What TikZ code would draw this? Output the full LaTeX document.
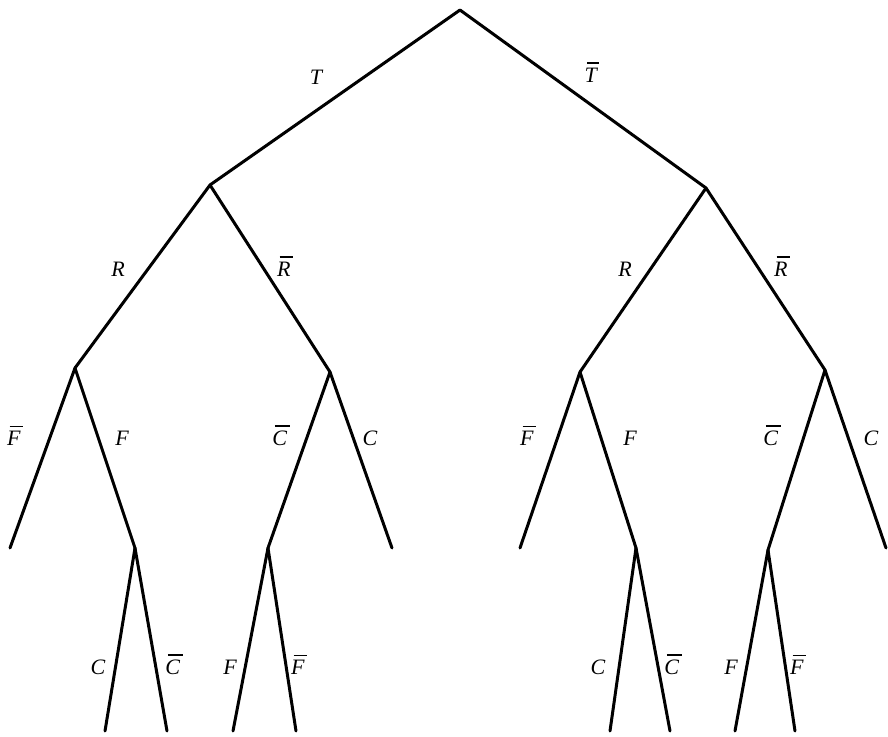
\documentclass[tikz,border=0pt]{standalone}
\usepackage{fontspec}
\setmainfont{Liberation Serif}
\begin{document}
\begin{tikzpicture}[x=1pt,y=-1pt,
  br/.style={line width=3pt,line cap=round},
  lab/.style={font=\fontsize{22}{24}\selectfont\itshape,inner sep=0pt},
  pt/.style={inner sep=0pt,minimum size=0pt}]
\useasboundingbox (0,0) rectangle (888,736);
\newcommand{\ob}[1]{\setbox0\hbox{#1}\vbox{\offinterlineskip\hbox{\kern2.5pt\vrule height 1.6pt depth 0pt width \wd0}\kern3.5pt\box0}}
% nodes
\node[pt] (r) at (460,10) {};
\node[pt] (a) at (210,185) {};
\node[pt] (b) at (706,188) {};
\node[pt] (aa) at (75,368) {};
\node[pt] (ab) at (330,372) {};
\node[pt] (ba) at (580,372) {};
\node[pt] (bb) at (825,370) {};
\node[pt] (aa1) at (10,548) {};
\node[pt] (aa2) at (135,548) {};
\node[pt] (ab1) at (268,548) {};
\node[pt] (ab2) at (392,548) {};
\node[pt] (ba1) at (520,548) {};
\node[pt] (ba2) at (636,548) {};
\node[pt] (bb1) at (768,550) {};
\node[pt] (bb2) at (886,548) {};
\node[pt] (c1) at (105,731) {};
\node[pt] (c2) at (167,731) {};
\node[pt] (d1) at (233,731) {};
\node[pt] (d2) at (296,731) {};
\node[pt] (e1) at (610,731) {};
\node[pt] (e2) at (670,731) {};
\node[pt] (f1) at (735,731) {};
\node[pt] (f2) at (795,731) {};
% branches
\draw[br] (r.center) -- (a.center);
\draw[br] (r.center) -- (b.center);
\draw[br] (a.center) -- (aa.center);
\draw[br] (a.center) -- (ab.center);
\draw[br] (b.center) -- (ba.center);
\draw[br] (b.center) -- (bb.center);
\draw[br] (aa.center) -- (aa1.center);
\draw[br] (aa.center) -- (aa2.center);
\draw[br] (ab.center) -- (ab1.center);
\draw[br] (ab.center) -- (ab2.center);
\draw[br] (ba.center) -- (ba1.center);
\draw[br] (ba.center) -- (ba2.center);
\draw[br] (bb.center) -- (bb1.center);
\draw[br] (bb.center) -- (bb2.center);
\draw[br] (aa2.center) -- (c1.center);
\draw[br] (aa2.center) -- (c2.center);
\draw[br] (ab1.center) -- (d1.center);
\draw[br] (ab1.center) -- (d2.center);
\draw[br] (ba2.center) -- (e1.center);
\draw[br] (ba2.center) -- (e2.center);
\draw[br] (bb1.center) -- (f1.center);
\draw[br] (bb1.center) -- (f2.center);
% labels
\node[lab,anchor=base] (lT) at (316,84) {T};
\node[lab,anchor=base] (lTb) at (592,82) {\ob{T}};
\node[lab,anchor=base] (lR1) at (118,276) {R};
\node[lab,anchor=base] (lR1b) at (285,276) {\ob{R}};
\node[lab,anchor=base] (lR2) at (625,276) {R};
\node[lab,anchor=base] (lR2b) at (782,276) {\ob{R}};
\node[lab,anchor=base] (lF1b) at (15,445) {\ob{F}};
\node[lab,anchor=base] (lF1) at (122,445) {F};
\node[lab,anchor=base] (lC1b) at (281,445) {\ob{C}};
\node[lab,anchor=base] (lC1) at (370,445) {C};
\node[lab,anchor=base] (lF2b) at (528,445) {\ob{F}};
\node[lab,anchor=base] (lF2) at (630,445) {F};
\node[lab,anchor=base] (lC2b) at (772,445) {\ob{C}};
\node[lab,anchor=base] (lC2) at (871,445) {C};
\node[lab,anchor=base] (lC3) at (98,674) {C};
\node[lab,anchor=base] (lC3b) at (174,674) {\ob{C}};
\node[lab,anchor=base] (lF3) at (230,674) {F};
\node[lab,anchor=base] (lF3b) at (299,674) {\ob{F}};
\node[lab,anchor=base] (lC4) at (598,674) {C};
\node[lab,anchor=base] (lC4b) at (673,674) {\ob{C}};
\node[lab,anchor=base] (lF4) at (731,674) {F};
\node[lab,anchor=base] (lF4b) at (798,674) {\ob{F}};
\end{tikzpicture}
\end{document}
